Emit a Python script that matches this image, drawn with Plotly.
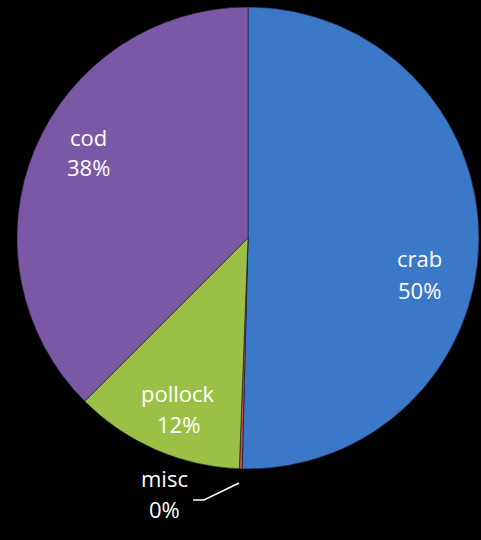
import plotly.graph_objects as go

labels = ["crab", "misc", "pollock", "cod"]
values = [504, 2, 119, 375]
colors = ["#3B78C8", "#C0504D", "#9CC045", "#7B58A6"]

# label anchor positions in pixels (layout only)
W, H = 481, 540
label_px = {
    "crab": (419, 274),
    "misc": (164, 493),
    "pollock": (178, 408),
    "cod": (88, 152),
}
line_gap = 31

total = sum(values)
pcts = [int(v * 100 / total + 0.5) for v in values]

fig = go.Figure(go.Pie(
    labels=labels,
    values=values,
    sort=False,
    direction="clockwise",
    rotation=0,
    marker=dict(colors=colors, line=dict(color="#1a1a2a", width=0.6)),
    textinfo="none",
    hoverinfo="label+percent",
    showlegend=False,
    domain=dict(x=[17 / W, 479 / W], y=[1 - 469 / H, 1 - 7 / H]),
))

annotations = []
for lab, p in zip(labels, pcts):
    cx, cy = label_px[lab]
    for txt, yy in ((lab, cy - line_gap / 2), (f"{p}%", cy + line_gap / 2)):
        annotations.append(dict(
            text=txt, x=cx / W, y=1 - yy / H, xref="paper", yref="paper",
            xanchor="center", yanchor="middle", showarrow=False,
            font=dict(family="Open Sans", size=22, color="white"),
        ))

leader = [(193, 500), (204, 500), (239, 483)]
path = "M " + " L ".join(f"{x / W},{1 - y / H}" for x, y in leader)

fig.update_layout(
    width=W, height=H,
    margin=dict(l=0, r=0, t=0, b=0),
    paper_bgcolor="black",
    plot_bgcolor="black",
    annotations=annotations,
    shapes=[dict(type="path", path=path, xref="paper", yref="paper",
                 line=dict(color="white", width=1.5))],
)

fig.write_html(
    "out.html",
    config={"displayModeBar": False},
    post_script="document.body.style.margin='0px';document.body.style.background='black';",
)
